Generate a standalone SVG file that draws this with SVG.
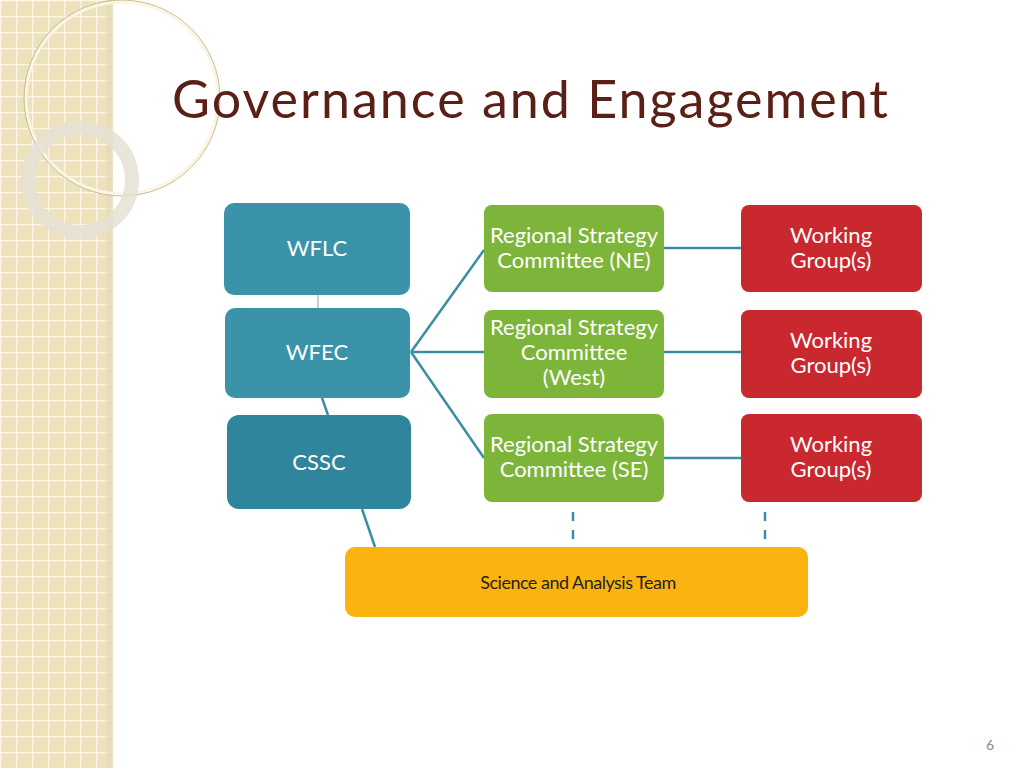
<svg xmlns="http://www.w3.org/2000/svg" width="1024" height="768" viewBox="0 0 1024 768">
<defs>
<pattern id="grid" width="16" height="16" patternUnits="userSpaceOnUse">
<rect width="16" height="16" fill="#eee2bd"/>
<path d="M0 0.5H16M0.5 0V16" stroke="#fbf6e6" stroke-width="1.5"/>
</pattern>
<style>
.lbl{font-family:Lato,"Open Sans",sans-serif;font-size:22px;fill:#fff;text-anchor:middle}
.con{stroke:#3a8ea3;stroke-width:2.5;fill:none}
</style>
</defs>
<rect width="1024" height="768" fill="#fff"/>
<g id="background">
<rect width="113" height="768" fill="url(#grid)"/>
<rect x="106" width="7" height="768" fill="#e6dbb6" opacity="0.7"/>
<circle cx="122" cy="98" r="96" fill="none" stroke="#faf5e4" stroke-width="3"/>
<circle cx="122" cy="98" r="98" fill="none" stroke="#c9bc94" stroke-width="1"/>
<circle cx="80" cy="180" r="52" fill="none" stroke="#e4e0d4" stroke-width="14" opacity="0.85"/>
</g>
<text x="172" y="118" font-family="Lato,'Open Sans',sans-serif" font-size="52" fill="#5a1f16" textLength="716">Governance and Engagement</text>
<g id="connectors">
<line x1="318" y1="295" x2="318" y2="308" stroke="#bbb" stroke-width="1.5"/>
<line class="con" x1="322" y1="398" x2="328" y2="415"/>
<line class="con" x1="362" y1="509" x2="375" y2="547"/>
<line class="con" x1="411" y1="352" x2="484" y2="250"/>
<line class="con" x1="411" y1="352" x2="484" y2="352"/>
<line class="con" x1="411" y1="352" x2="484" y2="458"/>
<line class="con" x1="664" y1="248" x2="741" y2="248"/>
<line class="con" x1="664" y1="352" x2="741" y2="352"/>
<line class="con" x1="664" y1="458" x2="741" y2="458"/>
<line class="con" x1="573" y1="512" x2="573" y2="547" stroke-dasharray="9,9"/>
<line class="con" x1="765" y1="512" x2="765" y2="547" stroke-dasharray="9,9"/>
</g>
<g id="wflc"><rect x="224" y="203" width="186" height="92" rx="10" fill="#3a93a8"/><text class="lbl" x="317" y="256">WFLC</text></g>
<g id="wfec"><rect x="225" y="308" width="185" height="90" rx="10" fill="#3a93a8"/><text class="lbl" x="317" y="360">WFEC</text></g>
<g id="cssc"><rect x="227" y="415" width="184" height="94" rx="12" fill="#2f869c"/><text class="lbl" x="319" y="470">CSSC</text></g>
<g id="rsc-ne"><rect x="484" y="205" width="180" height="87" rx="8" fill="#7db53a"/><text class="lbl" x="574" y="243">Regional Strategy</text><text class="lbl" x="574" y="268">Committee (NE)</text></g>
<g id="rsc-west"><rect x="484" y="310" width="180" height="88" rx="8" fill="#7db53a"/><text class="lbl" x="574" y="335">Regional Strategy</text><text class="lbl" x="574" y="360">Committee</text><text class="lbl" x="574" y="385">(West)</text></g>
<g id="rsc-se"><rect x="484" y="414" width="180" height="88" rx="8" fill="#7db53a"/><text class="lbl" x="574" y="452">Regional Strategy</text><text class="lbl" x="574" y="477">Committee (SE)</text></g>
<g id="wg1"><rect x="741" y="205" width="181" height="87" rx="8" fill="#c9282e"/><text class="lbl" x="831" y="243">Working</text><text class="lbl" x="831" y="268">Group(s)</text></g>
<g id="wg2"><rect x="741" y="310" width="181" height="88" rx="8" fill="#c9282e"/><text class="lbl" x="831" y="348">Working</text><text class="lbl" x="831" y="373">Group(s)</text></g>
<g id="wg3"><rect x="741" y="414" width="181" height="88" rx="8" fill="#c9282e"/><text class="lbl" x="831" y="452">Working</text><text class="lbl" x="831" y="477">Group(s)</text></g>
<g id="sat"><rect x="345" y="547" width="463" height="70" rx="10" fill="#fbb40f"/><text x="578" y="589" font-family="Lato,'Open Sans',sans-serif" font-size="18" fill="#222" text-anchor="middle" letter-spacing="-0.5">Science and Analysis Team</text></g>
<text x="990" y="750" font-family="Lato,sans-serif" font-size="14" fill="#888" text-anchor="middle">6</text>
</svg>
